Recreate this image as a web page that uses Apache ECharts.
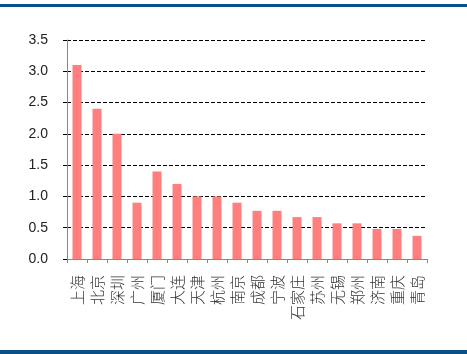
<!DOCTYPE html>
<html><head><meta charset="utf-8">
<script src="https://cdn.jsdelivr.net/npm/echarts@6/dist/echarts.min.js"></script>
<style>html,body{margin:0;padding:0;background:#fff}#c{width:467px;height:354px}</style>
</head><body><div id="c"></div>
<script>
const categories = ['上海','北京','深圳','广州','厦门','大连','天津','杭州','南京','成都','宁波','石家庄','苏州','无锡','郑州','济南','重庆','青岛'];
const values = [3.1, 2.4, 2.0, 0.9, 1.4, 1.2, 1.0, 1.0, 0.9, 0.77, 0.77, 0.67, 0.67, 0.57, 0.57, 0.48, 0.48, 0.37];
const chart = echarts.init(document.getElementById('c'), null, {renderer:'canvas'});
chart.setOption({
  animation:false,
  backgroundColor:'#fff',
  graphic:[
    {type:'rect', shape:{x:0,y:4,width:467,height:3}, style:{fill:'#0B4F87'}},
    {type:'rect', shape:{x:0,y:350,width:467,height:4}, style:{fill:'#0B4F87'}}
  ],
  grid:{left:67, right:40, top:40, bottom:95},
  xAxis:{type:'category', data:categories,
    axisLine:{lineStyle:{color:'#888', width:1}},
    axisTick:{show:true, length:4, lineStyle:{color:'#888'}},
    axisLabel:{rotate:90, interval:0, fontSize:15, color:'#333', margin:16,
      fontFamily:'"Noto Sans CJK SC", sans-serif', fontWeight:300}
  },
  yAxis:{type:'value', min:0, max:3.5, interval:0.5,
    axisLine:{show:true, lineStyle:{color:'#888'}},
    axisTick:{show:true, length:4, lineStyle:{color:'#000', type:'dashed'}},
    axisLabel:{formatter:v=>v.toFixed(1), fontSize:14, color:'#222', margin:19,
      fontFamily:'"Liberation Sans", Arial, sans-serif'},
    splitLine:{show:true, lineStyle:{color:'#000', type:[4,2], width:1}}
  },
  series:[{type:'bar', data:values, barWidth:9,
    itemStyle:{color:'#FF7F7F'}}]
});
</script></body></html>
